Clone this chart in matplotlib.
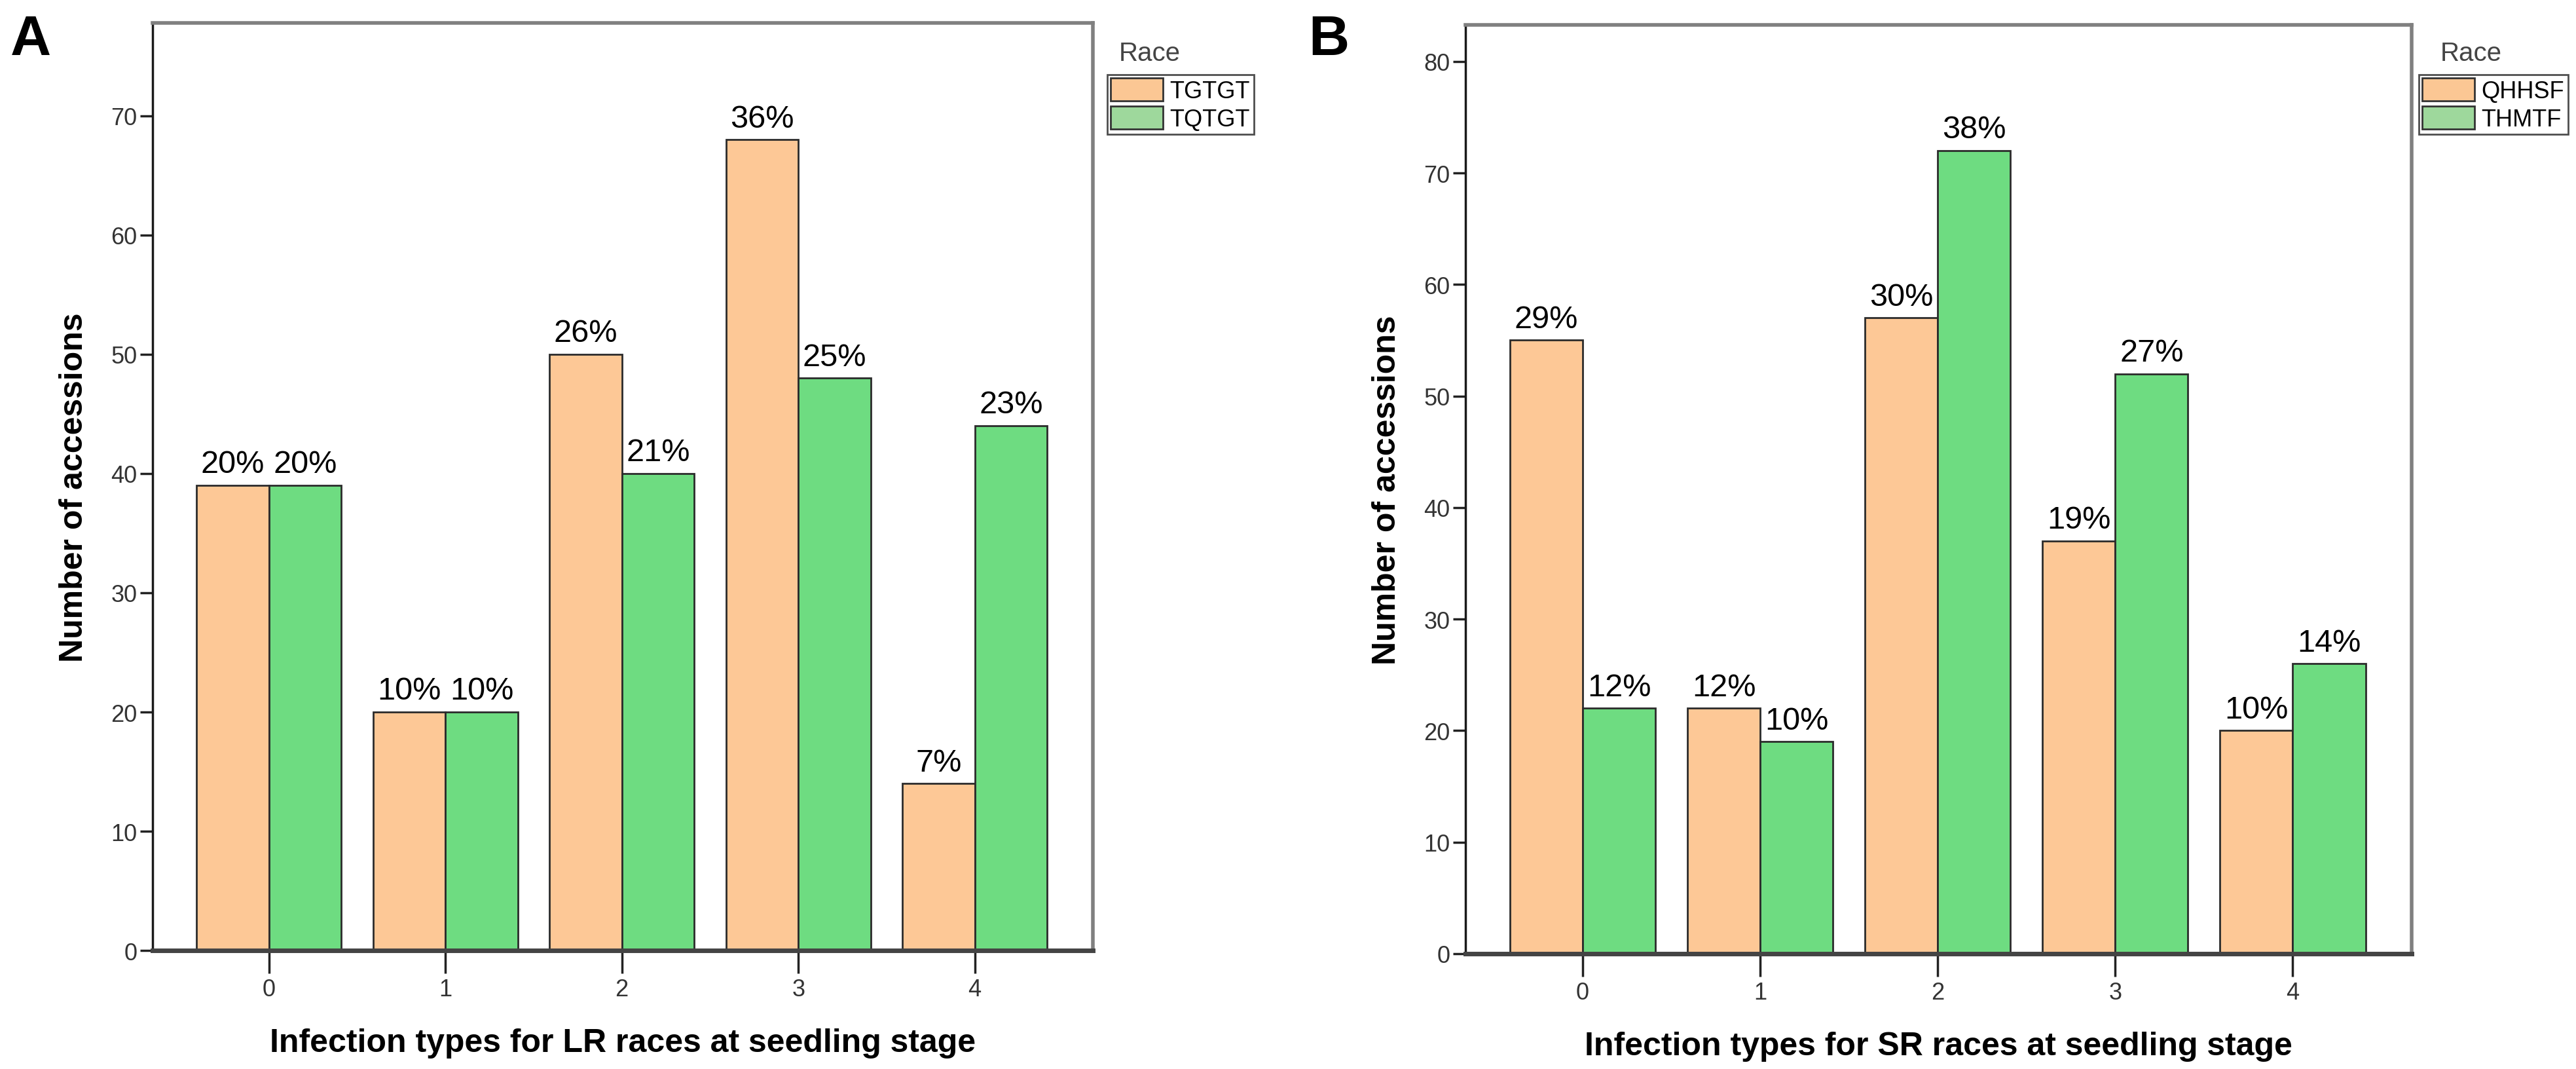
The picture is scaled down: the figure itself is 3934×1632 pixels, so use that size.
import numpy as np
import matplotlib.pyplot as plt
from matplotlib.patches import Patch

plt.rcParams['font.family'] = ['Liberation Sans', 'DejaVu Sans']

# data
types = [0, 1, 2, 3, 4]

lr_races = ["TGTGT", "TQTGT"]
lr_tgtgt = [39, 20, 50, 68, 14]
lr_tqtgt = [39, 20, 40, 48, 44]
lr_pct_tgtgt = ["20%", "10%", "26%", "36%", "7%"]
lr_pct_tqtgt = ["20%", "10%", "21%", "25%", "23%"]

sr_races = ["QHHSF", "THMTF"]
sr_qhhsf = [55, 22, 57, 37, 20]
sr_thmtf = [22, 19, 72, 52, 26]
sr_pct_qhhsf = ["29%", "12%", "30%", "19%", "10%"]
sr_pct_thmtf = ["12%", "10%", "38%", "27%", "14%"]

bar_orange = "#FDC896"
bar_green = "#6EDC81"
leg_orange = "#FBC794"
leg_green = "#9ED89C"

fig = plt.figure(figsize=(39.34, 16.33), dpi=100)


def panel(rect, v1, v2, p1, p2, ytop, yticks, xlabel, races, letter, letter_x, leg_x, title_x):
    ax = fig.add_axes(rect)
    x = np.array(types)
    w = 0.41
    ax.bar(x - w / 2, v1, w, color=bar_orange, edgecolor="#2b2b2b", linewidth=2, zorder=2)
    ax.bar(x + w / 2, v2, w, color=bar_green, edgecolor="#2b2b2b", linewidth=2, zorder=2)
    for xi, v, t in zip(x - w / 2, v1, p1):
        ax.annotate(t, (xi, v), xytext=(0, 7), textcoords="offset points",
                    ha="center", va="bottom", fontsize=35, color="black")
    for xi, v, t in zip(x + w / 2, v2, p2):
        ax.annotate(t, (xi, v), xytext=(0, 7), textcoords="offset points",
                    ha="center", va="bottom", fontsize=35, color="black")
    ax.set_xlim(-0.66, 4.67)
    ax.set_ylim(0, ytop)
    ax.set_xticks(types)
    ax.set_yticks(yticks)
    ax.tick_params(axis="both", labelsize=26, labelcolor="#333333", width=2.5,
                   color="#222222")
    ax.tick_params(axis="y", length=14, pad=3)
    ax.tick_params(axis="x", length=25, pad=5)
    for s in ["top", "right"]:
        ax.spines[s].set_color("#808080")
        ax.spines[s].set_linewidth(4)
    ax.spines["left"].set_color("#1a1a1a")
    ax.spines["left"].set_linewidth(2.5)
    ax.spines["bottom"].set_color("#444444")
    ax.spines["bottom"].set_linewidth(5)
    ax.set_xlabel(xlabel, fontsize=36, fontweight="bold", labelpad=30)
    ax.set_ylabel("Number of accessions", fontsize=36, fontweight="bold", labelpad=24)

    fig.text(letter_x, 0.962, letter, fontsize=62, fontweight="bold", ha="left", va="center")
    fig.text(title_x, 0.95, "Race", fontsize=29, color="#444444", ha="left", va="center")
    handles = [Patch(facecolor=leg_orange, edgecolor="#333333", linewidth=2, label=races[0]),
               Patch(facecolor=leg_green, edgecolor="#333333", linewidth=2, label=races[1])]
    leg = fig.legend(handles=handles, loc="upper left", bbox_to_anchor=(leg_x, 1 - 115 / 1633),
                     fontsize=26, frameon=True, fancybox=False, edgecolor="#222222",
                     handlelength=2.2, handleheight=1.1, handletextpad=0.3,
                     labelspacing=0.15, borderpad=0.15, borderaxespad=0)
    leg.get_frame().set_linewidth(2)
    return ax


panel([0.0592, 0.1108, 0.3651, 0.8672], lr_tgtgt, lr_tqtgt, lr_pct_tgtgt, lr_pct_tqtgt,
      77.8, range(0, 71, 10), "Infection types for LR races at seedling stage", lr_races,
      "A", 0.004, 1691 / 3934, 1709 / 3934)
panel([0.5689, 0.1078, 0.3673, 0.8686], sr_qhhsf, sr_thmtf, sr_pct_qhhsf, sr_pct_thmtf,
      83.3, range(0, 81, 10), "Infection types for SR races at seedling stage", sr_races,
      "B", 0.508, 3694 / 3934, 3727 / 3934)

fig.savefig("out.png", dpi=100)
